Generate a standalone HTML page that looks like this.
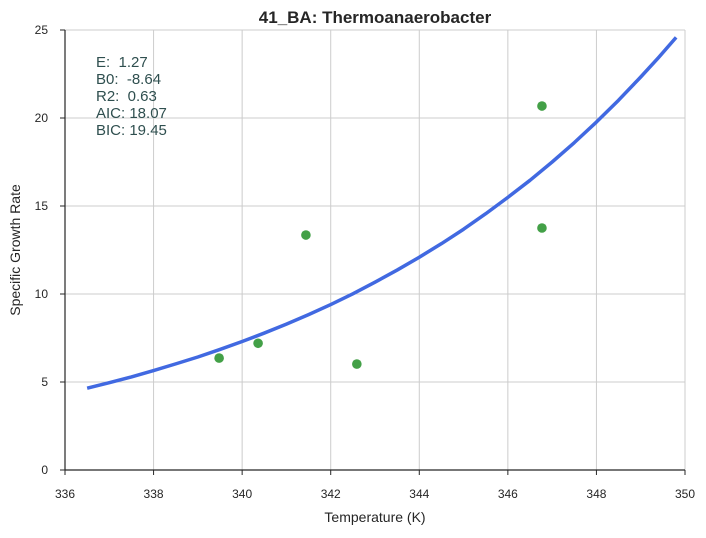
<!DOCTYPE html>
<html><head><meta charset="utf-8"><style>
body{margin:0;background:#fff;}
svg text{font-family:"Liberation Sans",Arial,sans-serif;}
.pre{white-space:pre;}
</style></head><body>
<svg id="chart" width="706" height="533" xmlns="http://www.w3.org/2000/svg">
<g id="grid"></g><g id="axes"></g><g id="marks"></g>
<text x="375" y="23" text-anchor="middle" font-size="17" font-weight="bold" fill="#262626">41_BA: Thermoanaerobacter</text>
<text x="375" y="522" text-anchor="middle" font-size="14" fill="#262626">Temperature (K)</text>
<text transform="translate(20,250) rotate(-90)" text-anchor="middle" font-size="14" fill="#262626">Specific Growth Rate</text>
<g font-size="15" fill="#2f4f4f" class="pre">
<text x="96" y="67" class="pre">E:  1.27</text>
<text x="96" y="84" class="pre">B0:  -8.64</text>
<text x="96" y="101" class="pre">R2:  0.63</text>
<text x="96" y="118" class="pre">AIC: 18.07</text>
<text x="96" y="135" class="pre">BIC: 19.45</text>
</g>
</svg>
<script>
const xTicks=[336,338,340,342,344,346,348,350];
const yTicks=[0,5,10,15,20,25];
const obsTemp=[339.48,340.36,341.44,342.59,346.77,346.77];
const obsRate=[6.36,7.2,13.35,6.02,20.68,13.75];
const fitTemp=[336.5,337,337.5,338,338.5,339,339.5,340,340.5,341,341.5,342,342.5,343,343.5,344,344.5,345,345.5,346,346.5,347,347.5,348,348.5,349,349.4,349.8];
const fitRate=[4.65,4.96,5.29,5.65,6.03,6.42,6.85,7.30,7.78,8.29,8.83,9.40,10.01,10.67,11.36,12.09,12.86,13.68,14.56,15.49,16.46,17.50,18.60,19.77,21.01,22.33,23.43,24.58];
const NS='http://www.w3.org/2000/svg';
const X0=65,X1=685,Y0=470,Y1=30;
const sx=v=>X0+(v-336)/(350-336)*(X1-X0);
const sy=v=>Y0-(v/25)*(Y0-Y1);
function mk(t,a,p){const e=document.createElementNS(NS,t);for(const k in a)e.setAttribute(k,a[k]);p.appendChild(e);return e;}
const grid=document.getElementById('grid'),axes=document.getElementById('axes'),marks=document.getElementById('marks');
xTicks.forEach(t=>{
 const l=mk('line',{x1:sx(t),x2:sx(t),y1:Y1,y2:Y0,stroke:'#cccccc','stroke-width':1},grid);
 
 
 const k=mk('line',{x1:sx(t),x2:sx(t),y1:Y0,y2:Y0+5,stroke:'#262626'},axes);
 
 
 const s=mk('text',{x:sx(t),y:Y0+28,'text-anchor':'middle','font-size':12,fill:'#262626'},axes);
 s.textContent=t;
 
 
});
yTicks.forEach(t=>{
 const l=mk('line',{x1:X0,x2:X1,y1:sy(t),y2:sy(t),stroke:'#cccccc','stroke-width':1},grid);
 
 
 const k=mk('line',{x1:X0-5,x2:X0,y1:sy(t),y2:sy(t),stroke:'#262626'},axes);
 
 
 const s=mk('text',{x:X0-17,y:sy(t)+4,'text-anchor':'end','font-size':12,fill:'#262626'},axes);
 s.textContent=t;
 
 
});
const ya=mk('line',{x1:X0,x2:X0,y1:Y1,y2:Y0,stroke:'#262626','stroke-width':1.2},axes);


const xa=mk('line',{x1:X0,x2:X1,y1:Y0,y2:Y0,stroke:'#262626','stroke-width':1.2},axes);


const pl=mk('polyline',{points:fitTemp.map((t,i)=>sx(t)+','+sy(fitRate[i])).join(' '),fill:'none',stroke:'#4169e1','stroke-width':3.5,'stroke-linejoin':'round'},marks);


obsTemp.forEach((t,i)=>{
 const c=mk('circle',{cx:sx(t),cy:sy(obsRate[i]),r:4.8,fill:'#43a047'},marks);
 
 
});
</script>
</body></html>
